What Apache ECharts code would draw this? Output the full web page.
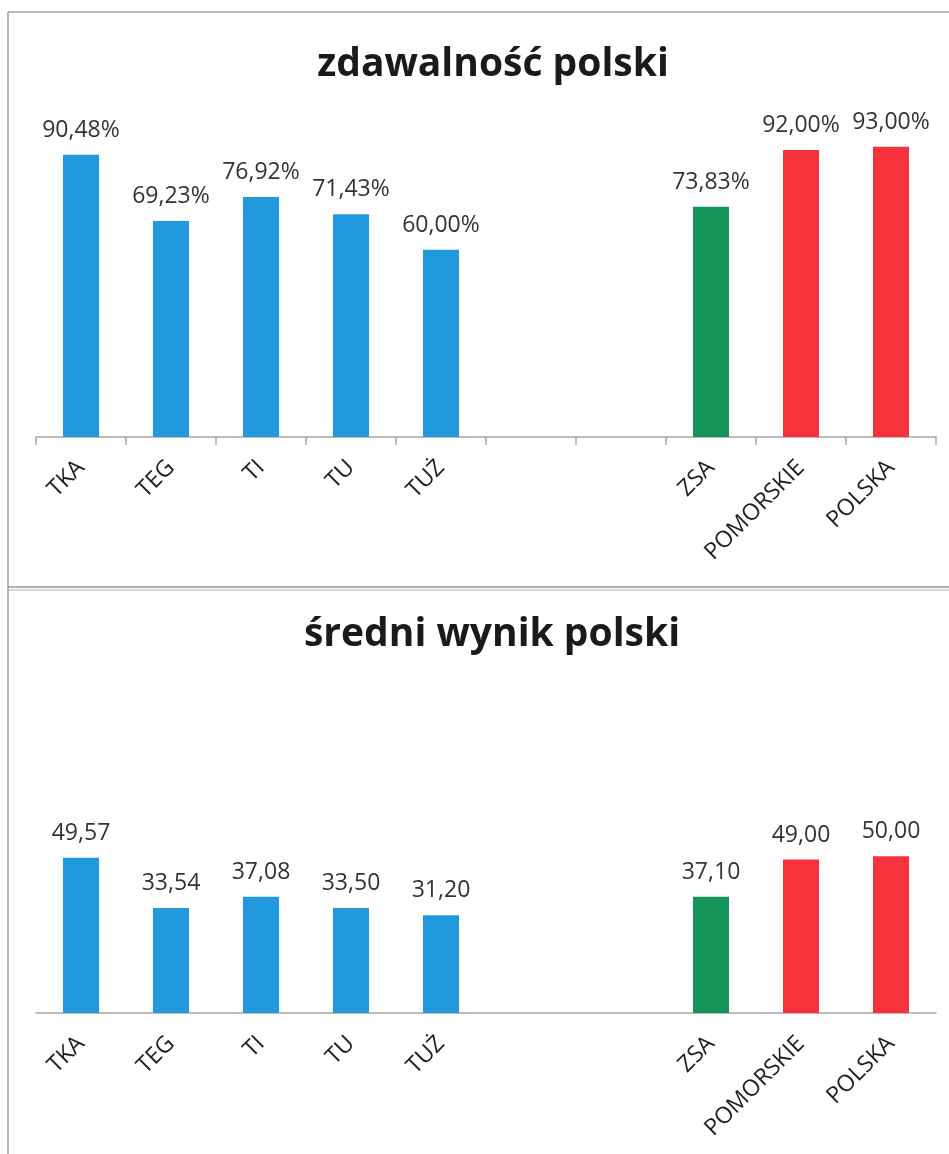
<!DOCTYPE html>
<html>
<head>
<meta charset="utf-8">
<script src="https://cdn.jsdelivr.net/npm/echarts@6/dist/echarts.min.js"></script>
<style>
  html, body { margin: 0; padding: 0; background: #fff; }
  #chart { width: 949px; height: 1154px; }
</style>
</head>
<body>
<div id="chart"></div>
<script>
// dane
const categories = ['TKA', 'TEG', 'TI', 'TU', 'TUŻ', '', '', 'ZSA', 'POMORSKIE', 'POLSKA']
const zdawalnosc = [90.48, 69.23, 76.92, 71.43, 60.00, null, null, 73.83, 92.00, 93.00]
const sredniWynik = [49.57, 33.54, 37.08, 33.50, 31.20, null, null, 37.10, 49.00, 50.00]
const titles = ['zdawalność polski', 'średni wynik polski']

// kolory słupków
const BLUE = '#2199dd'
const GREEN = '#14935b'
const RED = '#f7323d'
const barColors = [BLUE, BLUE, BLUE, BLUE, BLUE, BLUE, BLUE, GREEN, RED, RED]

const FONT = '"Open Sans", sans-serif'
const fmt = (v) => v.toFixed(2).replace('.', ',')

const toSeriesData = (arr) => arr.map((v, i) => ({
  value: v,
  itemStyle: { color: barColors[i] }
}))

const xAxisBase = (gridIndex, ticks) => ({
  type: 'category',
  gridIndex: gridIndex,
  data: categories,
  axisLine: { show: true, lineStyle: { color: '#a6a6a6', width: 1.5 } },
  axisTick: { show: ticks, length: 8, lineStyle: { color: '#a6a6a6', width: 1.5 } },
  axisLabel: {
    rotate: 45,
    interval: 0,
    margin: 27,
    fontSize: 23,
    fontFamily: FONT,
    color: '#1f1f1f'
  }
})

const valueLabel = (suffix) => ({
  show: true,
  position: 'top',
  distance: 13,
  fontSize: 23,
  fontFamily: FONT,
  color: '#333333',
  formatter: (p) => fmt(p.value) + suffix
})

const myChart = echarts.init(document.getElementById('chart'))

myChart.setOption({
  backgroundColor: '#fff',
  animation: false,
  title: [
    {
      text: titles[0],
      left: 488,
      textAlign: 'center',
      top: 40,
      textStyle: { fontSize: 39, fontWeight: 'bold', color: '#1a1a1a', fontFamily: FONT }
    },
    {
      text: titles[1],
      left: 487,
      textAlign: 'center',
      top: 610,
      textStyle: { fontSize: 39, fontWeight: 'bold', color: '#1a1a1a', fontFamily: FONT }
    }
  ],
  grid: [
    { left: 36, right: 13, top: 125, height: 312 },
    { left: 36, right: 13, top: 825, height: 188 }
  ],
  xAxis: [xAxisBase(0, true), xAxisBase(1, false)],
  yAxis: [
    { type: 'value', gridIndex: 0, min: 0, max: 100, show: false, splitLine: { show: false } },
    { type: 'value', gridIndex: 1, min: 0, max: 60, show: false, splitLine: { show: false } }
  ],
  series: [
    {
      type: 'bar',
      xAxisIndex: 0,
      yAxisIndex: 0,
      barWidth: 36,
      data: toSeriesData(zdawalnosc),
      label: valueLabel('%')
    },
    {
      type: 'bar',
      xAxisIndex: 1,
      yAxisIndex: 1,
      barWidth: 36,
      data: toSeriesData(sredniWynik),
      label: valueLabel('')
    }
  ],
  // ramki wykresów
  graphic: [
    { type: 'line', shape: { x1: 8, y1: 12, x2: 949, y2: 12 }, style: { stroke: '#a0a0a0', lineWidth: 1.5 } },
    { type: 'line', shape: { x1: 8, y1: 12, x2: 8, y2: 1154 }, style: { stroke: '#a0a0a0', lineWidth: 1.5 } },
    { type: 'line', shape: { x1: 8, y1: 587, x2: 949, y2: 587 }, style: { stroke: '#9a9a9a', lineWidth: 1.5 } },
    { type: 'line', shape: { x1: 8, y1: 590, x2: 949, y2: 590 }, style: { stroke: '#b0b0b0', lineWidth: 1 } }
  ]
})

window.addEventListener('resize', () => {
  myChart.resize()
})
</script>
</body>
</html>
